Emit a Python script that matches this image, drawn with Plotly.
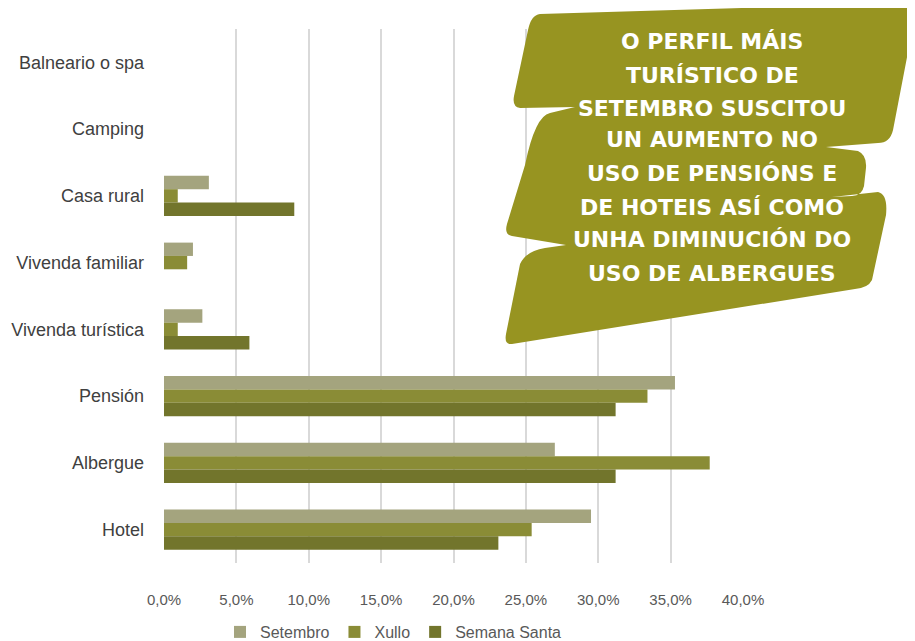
import plotly.graph_objects as go

categories = ["Balneario o spa", "Camping", "Casa rural", "Vivenda familiar",
              "Vivenda turística", "Pensión", "Albergue", "Hotel"]
setembro = [0.0, 0.0, 0.031, 0.020, 0.0265, 0.353, 0.270, 0.295]
xullo = [0.0, 0.0, 0.0095, 0.016, 0.0095, 0.334, 0.377, 0.254]
semana_santa = [0.0, 0.0, 0.090, 0.0, 0.059, 0.312, 0.312, 0.231]
series_names = ["Setembro", "Xullo", "Semana Santa"]
series_colors = ["#a4a47e", "#8a8c36", "#72752c"]
x_ticks = [0, 0.05, 0.10, 0.15, 0.20, 0.25, 0.30, 0.35, 0.40]
x_tick_labels = ["0,0%", "5,0%", "10,0%", "15,0%", "20,0%", "25,0%", "30,0%", "35,0%", "40,0%"]
note_lines = ["O PERFIL MÁIS", "TURÍSTICO DE", "SETEMBRO SUSCITOU", "UN AUMENTO NO",
              "USO DE PENSIÓNS E", "DE HOTEIS ASÍ COMO", "UNHA DIMINUCIÓN DO",
              "USO DE ALBERGUES"]

OFF = 8  # page body margin
W, H = 915 - OFF, 641 - OFF
L, R, T, B = 164 - OFF, 743 - OFF, 29 - OFF, 563 - OFF


def px(x):
    return (x - OFF - L) / (R - L)


def py(y):
    return (B - (y - OFF)) / (B - T)


fig = go.Figure()
for name, vals, col in zip(series_names, [setembro, xullo, semana_santa], series_colors):
    fig.add_trace(go.Bar(y=categories, x=vals, name=name, orientation="h",
                         marker=dict(color=col, line=dict(width=0))))

# brush-like callout shape (reference pixel path -> paper coords)
pts = [
    ("M", [(540, 14)]),
    ("L", [(910, 3)]),
    ("Q", [(916, 28), (908, 52)]),
    ("L", [(893, 130)]),
    ("Q", [(890, 143), (878, 143)]),
    ("L", [(826, 147)]),
    ("L", [(858, 151)]),
    ("Q", [(867, 155), (866, 168)]),
    ("L", [(864, 186)]),
    ("Q", [(862, 196), (852, 196)]),
    ("L", [(832, 197)]),
    ("L", [(878, 192)]),
    ("Q", [(888, 194), (886, 215)]),
    ("L", [(872, 280)]),
    ("Q", [(868, 288), (855, 289)]),
    ("L", [(512, 344)]),
    ("Q", [(504, 345), (506, 334)]),
    ("L", [(520, 264)]),
    ("Q", [(526, 251), (545, 248)]),
    ("L", [(566, 245)]),
    ("L", [(512, 236)]),
    ("Q", [(504, 235), (507, 224)]),
    ("L", [(525, 165)]),
    ("Q", [(535, 116), (550, 113)]),
    ("L", [(575, 107)]),
    ("L", [(520, 108)]),
    ("Q", [(512, 107), (514, 96)]),
    ("L", [(528, 30)]),
    ("Q", [(531, 15), (540, 14)]),
]
path = ""
for cmd, cs in pts:
    path += cmd + " " + " ".join(f"{px(x):.4f},{py(y):.4f}" for x, y in cs) + " "
path += "Z"
fig.add_shape(type="path", path=path, xref="paper", yref="paper",
              fillcolor="#979421", line=dict(width=0), layer="above")

line_y = [42, 75, 108, 140, 173, 207, 240, 273]
for txt, yy in zip(note_lines, line_y):
    fig.add_annotation(text=txt, xref="paper", yref="paper", x=px(712), y=py(yy),
                       xanchor="center", yanchor="middle", showarrow=False,
                       font=dict(family="DejaVu Sans", size=22, color="white", weight="bold"))

fig.update_layout(
    width=W, height=H,
    margin=dict(l=L, r=W - R, t=T, b=H - B, autoexpand=False),
    paper_bgcolor="white", plot_bgcolor="white",
    barmode="group", bargap=0.4, bargroupgap=0,
    font=dict(family="Liberation Sans", color="#595959"),
    legend=dict(orientation="h", x=px(220), y=py(632), xanchor="left", yanchor="middle",
                font=dict(size=16, color="#595959"), itemwidth=30, tracegroupgap=0),
    showlegend=True,
)
fig.update_xaxes(range=[0, 0.4], tickvals=x_ticks, ticktext=x_tick_labels,
                 showgrid=True, gridcolor="#d9d9d9", gridwidth=1.5, zeroline=False,
                 tickfont=dict(size=15, color="#595959"), ticks="", showline=False,
                 automargin=False, ticklabelstandoff=26)
fig.update_yaxes(autorange="reversed", categoryorder="array", categoryarray=categories,
                 tickfont=dict(size=18, color="#404040"), ticks="", showgrid=False,
                 ticklabelstandoff=19, automargin=False)

fig.write_html("out.html")
